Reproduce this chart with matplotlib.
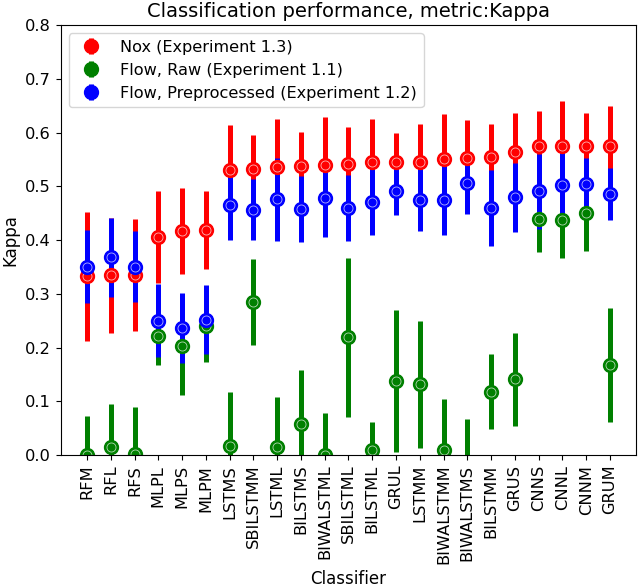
import numpy as np
import matplotlib
matplotlib.use('Agg')
import matplotlib.pyplot as plt

classifiers = ['RFM', 'RFL', 'RFS', 'MLPL', 'MLPS', 'MLPM', 'LSTMS', 'SBILSTMM',
               'LSTML', 'BILSTMS', 'BIWALSTML', 'SBILSTML', 'BILSTML', 'GRUL',
               'LSTMM', 'BIWALSTMM', 'BIWALSTMS', 'BILSTMM', 'GRUS', 'CNNS',
               'CNNL', 'CNNM', 'GRUM']

# Nox (Experiment 1.3)
nox_mean = [0.333, 0.335, 0.335, 0.406, 0.417, 0.419, 0.530, 0.533, 0.536, 0.539,
            0.540, 0.542, 0.545, 0.545, 0.546, 0.551, 0.553, 0.555, 0.564, 0.575,
            0.575, 0.576, 0.576]
nox_std = [0.120, 0.107, 0.104, 0.086, 0.080, 0.072, 0.085, 0.062, 0.089, 0.062,
           0.090, 0.069, 0.081, 0.054, 0.070, 0.084, 0.071, 0.061, 0.072, 0.066,
           0.084, 0.060, 0.073]

# Flow, Raw (Experiment 1.1)
raw_mean = [0.000, 0.015, 0.002, 0.221, 0.203, 0.241, 0.017, 0.285, 0.015, 0.058,
            0.000, 0.219, 0.009, 0.138, 0.132, 0.009, -0.025, 0.118, 0.141, 0.439,
            0.437, 0.451, 0.167]
raw_std = [0.072, 0.081, 0.088, 0.054, 0.091, 0.068, 0.101, 0.080, 0.093, 0.101,
           0.079, 0.148, 0.052, 0.133, 0.118, 0.095, 0.093, 0.070, 0.087, 0.061,
           0.071, 0.071, 0.106]

# Flow, Preprocessed (Experiment 1.2)
pre_mean = [0.351, 0.368, 0.351, 0.250, 0.237, 0.252, 0.466, 0.457, 0.476, 0.458,
            0.479, 0.460, 0.471, 0.491, 0.475, 0.475, 0.506, 0.460, 0.480, 0.491,
            0.502, 0.505, 0.486]
pre_std = [0.068, 0.073, 0.066, 0.068, 0.065, 0.064, 0.066, 0.057, 0.077, 0.062,
           0.073, 0.062, 0.062, 0.044, 0.057, 0.066, 0.058, 0.071, 0.064, 0.070,
           0.062, 0.048, 0.048]

series = [
    ('Nox (Experiment 1.3)', nox_mean, nox_std, 'red'),
    ('Flow, Raw (Experiment 1.1)', raw_mean, raw_std, 'green'),
    ('Flow, Preprocessed (Experiment 1.2)', pre_mean, pre_std, 'blue'),
]

fig = plt.figure(figsize=(6.4, 5.88), dpi=100)
ax = fig.add_axes([0.095, 0.226, 0.899, 0.731])

x = np.arange(len(classifiers))
for label, m, s, c in series:
    ax.errorbar(x, m, yerr=s, fmt='o', color=c, ecolor=c, elinewidth=3.6,
                markersize=10, label=label)
    # light inner ring on the markers
    ax.plot(x, m, 'o', markersize=6.5, markerfacecolor='none',
            markeredgecolor='white', markeredgewidth=0.6, alpha=0.7, zorder=2.1)

ax.set_ylim(0, 0.8)
ax.set_xticks(x)
ax.set_xticklabels(classifiers, rotation=90, fontsize=11.7)
ax.tick_params(axis='y', labelsize=11.7)
ax.set_xlabel('Classifier', fontsize=12)
ax.set_ylabel('Kappa', fontsize=12)
ax.set_title('Classification performance, metric:Kappa', fontsize=14)
ax.legend(loc='upper left', fontsize=11.6)

fig.savefig('out.png', dpi=100)
